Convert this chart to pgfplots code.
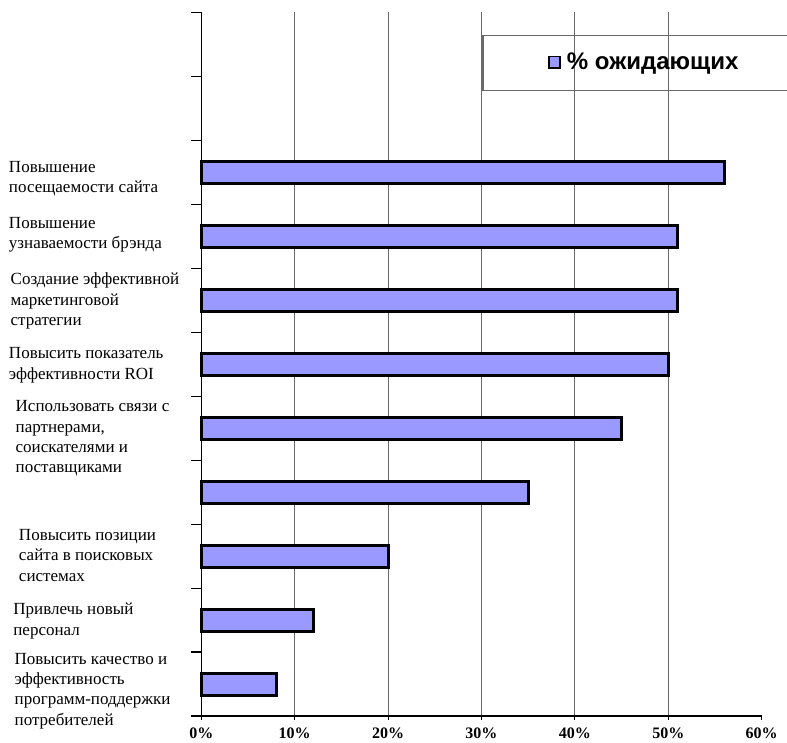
\documentclass[border=0pt]{standalone}
\usepackage{fontspec}
\setmainfont{Liberation Serif}
\newfontfamily\legendfont{Liberation Sans}
\usepackage{pgfplots}
\pgfplotsset{compat=1.18}
\definecolor{barfill}{RGB}{153,153,255}
\definecolor{gridgray}{RGB}{105,105,105}
% category label: horizontal indent, vertical nudge, lines
\newcommand{\lbl}[3]{\smash{\hspace*{#1}\raisebox{#2}{%
  \begin{tabular}{@{}l@{}}#3\end{tabular}}}}

\begin{document}
\begin{tikzpicture}
\clip (0,0) rectangle (787pt,743pt);
\begin{axis}[
  at={(201.3pt,27pt)}, anchor=south west,
  scale only axis, width=560.4pt, height=703.5pt,
  xmin=0, xmax=60, ymin=-0.5, ymax=10.5,
  axis x line*=bottom, axis y line*=left,
  axis line style={black, line width=1.2pt},
  xbar, bar width=22pt,
  xtick={0,10,...,50},
  xticklabels={0\%,10\%,20\%,30\%,40\%,50\%},
  extra x ticks={60}, extra x tick labels={60\%},
  extra x tick style={grid=none},
  xmajorgrids,
  major grid style={gridgray, line width=1.1pt},
  tick align=outside,
  major tick length=4pt, minor tick length=10pt,
  tick style={black, line width=1.1pt},
  major y tick style={draw=none},
  ytick={0,...,10},
  minor ytick={-0.5,0.5,...,10.5},
  yticklabels={
    {\lbl{5.7pt}{-6pt}{Повысить качество и\\эффективность\\программ-поддержки\\потребителей}},
    {\lbl{4.4pt}{0pt}{Привлечь новый\\персонал}},
    {\lbl{10pt}{0pt}{Повысить позиции\\сайта в поисковых\\системах}},
    {},
    {\lbl{6.7pt}{-9.3pt}{Использовать связи с\\партнерами,\\соискателями и\\поставщиками}},
    {\lbl{0pt}{0pt}{Повысить показатель\\эффективности ROI}},
    {\lbl{1.7pt}{0pt}{Создание эффективной\\маркетинговой\\стратегии}},
    {\lbl{0pt}{2.5pt}{Повышение\\узнаваемости брэнда}},
    {\lbl{0pt}{-5.4pt}{Повышение\\посещаемости сайта}},
    {}, {}},
  yticklabel style={anchor=west, inner sep=0pt, xshift=-188.5pt, yshift=-5pt,
    font=\rmfamily\fontsize{17}{20.4}\selectfont},
  xticklabel style={anchor=north, inner sep=0pt, yshift=-7.5pt,
    font=\rmfamily\bfseries\fontsize{16}{16}\selectfont},
  legend style={draw=none, fill=none, at={(rel axis cs:0.6187,0.9293)},
    anchor=west, inner sep=0pt, column sep=4pt,
    font=\legendfont\bfseries\fontsize{24}{24}\selectfont},
  legend cell align=left,
  clip=false,
]
\addplot[draw=black, line width=3pt, fill=barfill,
  legend image code/.code={\draw[draw=black, line width=1.5pt, fill=barfill]
    (0pt,-5.6pt) rectangle (11.2pt,5.6pt);}]
  coordinates {(8,0) (12,1) (20,2) (35,3) (45,4) (50,5) (51,6) (51,7) (56,8)};
\addlegendentry{\% ожидающих}
\draw[gridgray, line width=1.1pt]
  (rel axis cs:0.5027,0.9677) rectangle (rel axis cs:1.2,0.8894);
\end{axis}
\end{tikzpicture}
\end{document}
